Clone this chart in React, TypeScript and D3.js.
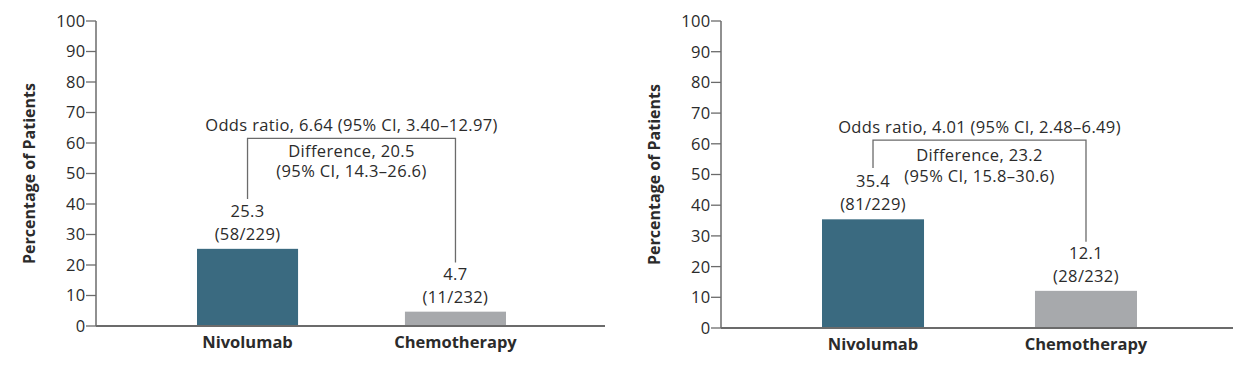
import React from "react";
import * as d3 from "d3";

const categories = ["Nivolumab", "Chemotherapy"];
const yTicks = [0, 10, 20, 30, 40, 50, 60, 70, 80, 90, 100];

const leftValues = [25.3, 4.7];
const leftCounts = ["(58/229)", "(11/232)"];
const leftOdds = "Odds ratio, 6.64 (95% CI, 3.40–12.97)";
const leftDiff = ["Difference, 20.5", "(95% CI, 14.3–26.6)"];

const rightValues = [35.4, 12.1];
const rightCounts = ["(81/229)", "(28/232)"];
const rightOdds = "Odds ratio, 4.01 (95% CI, 2.48–6.49)";
const rightDiff = ["Difference, 23.2", "(95% CI, 15.8–30.6)"];

// layout (in pixels / value units for bracket placement)
const panels = [
  {
    values: leftValues, counts: leftCounts, odds: leftOdds, diff: leftDiff,
    axisX: 96, axisEnd: 605, y0: 326, y100: 21,
    barStart: 197, barEnd: 506, padInner: 0.514,
    bracketTop: 61.5, legBottoms: [41.6, 20.8], titleX: 29,
    diffDy: [19, 39],
  },
  {
    values: rightValues, counts: rightCounts, odds: rightOdds, diff: rightDiff,
    axisX: 721, axisEnd: 1233, y0: 328, y100: 21,
    barStart: 822, barEnd: 1137, padInner: 0.521,
    bracketTop: 61.2, legBottoms: [52.1, 28.1], titleX: 654,
    diffDy: [20.5, 41.5],
  },
];

const barColors = ["#3a6a80", "#a7a9ac"];
const textColor = "#2b2b2b";
const axisColor = "#6b6b6b";
const FONT = "'Open Sans', 'DejaVu Sans', sans-serif";
const FS = 16.5;
const LS = 0.35;

function Panel({ p }: { p: (typeof panels)[number] }) {
  const y = d3.scaleLinear().domain([0, 100]).range([p.y0, p.y100]);
  const x = d3
    .scaleBand<string>()
    .domain(categories)
    .range([p.barStart, p.barEnd])
    .paddingInner(p.padInner)
    .paddingOuter(0);
  const cx = (c: string) => (x(c) ?? 0) + x.bandwidth() / 2;
  const lx = cx(categories[0]);
  const rx = cx(categories[1]);
  const by = y(p.bracketTop);
  const midX = (lx + rx) / 2;
  return (
    <g fontFamily={FONT} fill={textColor}>
      {/* y axis title */}
      <text
        transform={`translate(${p.titleX},${(p.y0 + p.y100) / 2 + 0}) rotate(-90)`}
        textAnchor="middle"
        dominantBaseline="central"
        fontWeight="bold"
        fontSize={16}
      >
        Percentage of Patients
      </text>
      {/* ticks */}
      {yTicks.map((t) => (
        <g key={t}>
          <line x1={p.axisX - 10} x2={p.axisX} y1={y(t)} y2={y(t)} stroke={axisColor} strokeWidth={1.3} />
          <text x={p.axisX - 10.5} y={y(t)} dy="0.36em" textAnchor="end" fontSize={FS} letterSpacing={0.3}>
            {t}
          </text>
        </g>
      ))}
      {/* bars */}
      {categories.map((c, i) => (
        <rect
          key={c}
          x={x(c)}
          width={x.bandwidth()}
          y={y(p.values[i])}
          height={y(0) - y(p.values[i])}
          fill={barColors[i]}
        />
      ))}
      {/* axes */}
      <line x1={p.axisX} x2={p.axisX} y1={y(100)} y2={y(0)} stroke={axisColor} strokeWidth={1.5} />
      <line x1={p.axisX} x2={p.axisEnd} y1={y(0)} y2={y(0)} stroke={axisColor} strokeWidth={1.8} />
      {/* bar labels */}
      {categories.map((c, i) => (
        <g key={c + "l"} fontSize={FS} textAnchor="middle" letterSpacing={LS}>
          <text x={cx(c)} y={y(p.values[i]) - 32}>{p.values[i].toFixed(1)}</text>
          <text x={cx(c)} y={y(p.values[i]) - 9}>{p.counts[i]}</text>
          <text x={cx(c)} y={y(0) + 22} fontWeight="bold" fontSize={16.5} letterSpacing={0}>{c}</text>
        </g>
      ))}
      {/* bracket */}
      <path
        d={`M${lx},${y(p.legBottoms[0])}V${by}H${rx}V${y(p.legBottoms[1])}`}
        fill="none"
        stroke={axisColor}
        strokeWidth={1.3}
      />
      <g fontSize={FS} textAnchor="middle" letterSpacing={LS}>
        <text x={midX} y={by - 7}>{p.odds}</text>
        <text x={midX} y={by + p.diffDy[0]}>{p.diff[0]}</text>
        <text x={midX} y={by + p.diffDy[1]}>{p.diff[1]}</text>
      </g>
    </g>
  );
}

export default function App() {
  return (
    <svg
      width={1241}
      height={370}
      style={{ position: "absolute", left: 0, top: 0, background: "#fff" }}
    >
      {panels.map((p, i) => (
        <Panel key={i} p={p} />
      ))}
    </svg>
  );
}
